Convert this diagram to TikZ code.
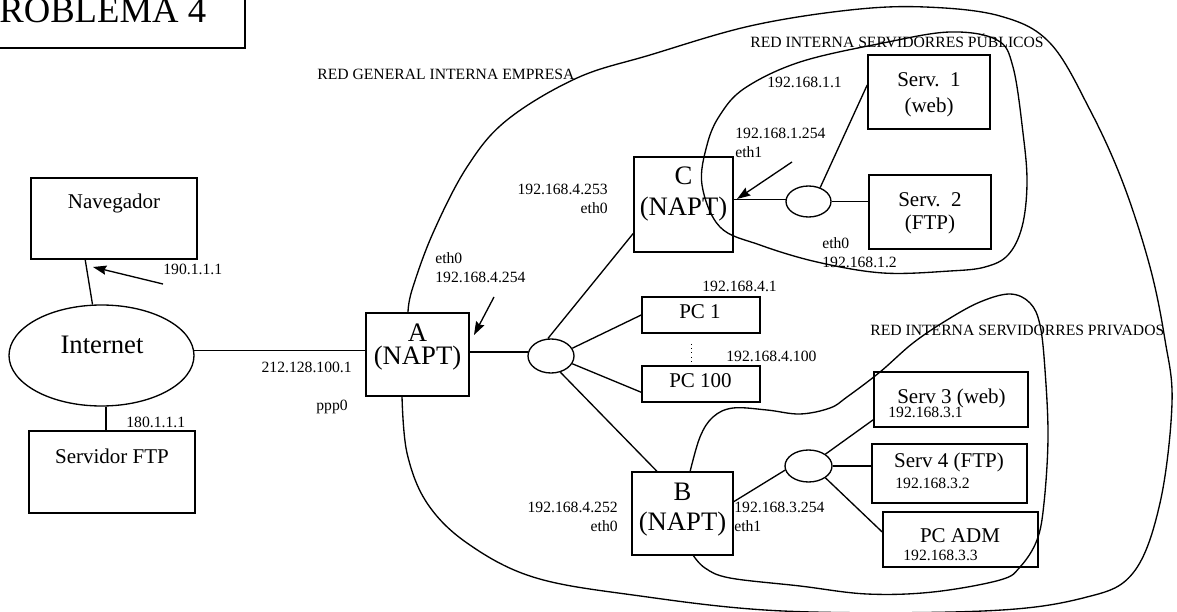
\documentclass[tikz,border=0pt]{standalone}
\usepackage{fontspec}
\setmainfont{Liberation Serif}
\usetikzlibrary{arrows.meta,positioning,calc,shapes.geometric}

\begin{document}
\begin{tikzpicture}[x=0.6pt,y=-0.6pt,
  box/.style={draw, line width=0.95pt, inner sep=0pt},
  wh/.style 2 args={minimum width=#1*0.6pt, minimum height=#2*0.6pt},
  hub/.style={draw, ellipse, line width=0.8pt, inner sep=0pt},
  link/.style={line width=0.8pt},
  ptr/.style={line width=0.8pt, -{Stealth[length=8pt, width=5.5pt, inset=1pt]}},
  lbl/.style={font=\fontsize{9.4}{11.4}\selectfont, inner sep=0pt},
  txt/.style={font=\fontsize{12.6}{15}\selectfont, inner sep=0pt},
  napt/.style={font=\fontsize{16}{18.6}\selectfont, align=center, inner sep=0pt}]
\useasboundingbox (0,0) rectangle (1177,612);
\clip (0,0) rectangle (1177,612);

% title
\node[box, wh={260}{60}] (titlebox) at (115,18) {};
\node[anchor=base west, inner sep=0pt, font=\fontsize{22}{26}\selectfont] (title) at (-1,23) {ROBLEMA 4};

% outside world
\node[box, wh={166}{81}] (Nav) at (114,218.5) {};
\node[txt, anchor=base] (navtxt) at (114,209) {Navegador};
\node[hub, wh={185}{101}] (Internet) at (101.5,355.5) {};
\node[anchor=base, inner sep=0pt, font=\fontsize{16}{19}\selectfont] (inettxt) at (102,353) {Internet};
\node[box, wh={166}{82}] (FTP) at (112,472) {};
\node[txt, anchor=base] (ftptxt) at (112,463) {Servidor FTP};

\node[lbl, anchor=base west] (n190) at (163,275) {190.1.1.1};
\node[lbl, anchor=base west] (n180) at (126,427) {180.1.1.1};
\node[lbl, anchor=base east] (nwan) at (352,372) {212.128.100.1};
\node[lbl, anchor=base west] (nppp) at (316,410) {ppp0};

% routers
\node[box, wh={103}{83}] (A) at (417.5,354.5) {};
\node[napt, font=\fontsize{16}{13.8}\selectfont] (Atxt) at (417.5,347.5) {A\\(NAPT)};
\node[box, wh={99}{95}] (C) at (683.5,204.5) {};
\node[napt] (Ctxt) at (683.5,194.5) {C\\(NAPT)};
\node[box, wh={101}{83}] (B) at (682.5,513.5) {};
\node[napt, font=\fontsize{16}{18}\selectfont] (Btxt) at (682.5,510) {B\\(NAPT)};

\node[lbl, align=left, anchor=north west] (aeth) at (435,252) {eth0\\192.168.4.254};
\node[lbl, align=right, anchor=north east] (ceth0) at (608,184) {192.168.4.253\\eth0};
\node[lbl, align=left, anchor=north west] (ceth1) at (735,127.5) {192.168.1.254\\eth1};
\node[lbl, align=right, anchor=north east] (beth0) at (618,502) {192.168.4.252\\eth0};
\node[lbl, align=left, anchor=north west] (beth1) at (734,502) {192.168.3.254\\eth1};

% hubs
\node[hub, wh={46}{34}] (hub1) at (551,356) {};
\node[hub, wh={45}{31}] (hub2) at (808.5,201.5) {};
\node[hub, wh={47}{32}] (hub3) at (808.5,466) {};

% general network
\node[box, wh={118}{36}] (PC1) at (701,315) {};
\node[txt, anchor=base] (pc1txt) at (700,318) {PC 1};
\node[box, wh={118}{36}] (PC100) at (701,384) {};
\node[txt, anchor=base] (pc100txt) at (700.5,387) {PC 100};
\node[lbl, anchor=base west] (n41) at (702,291) {192.168.4.1};
\node[lbl, anchor=base west] (n4100) at (726,361) {192.168.4.100};

% public servers
\node[box, wh={122}{74}] (S1) at (929,92) {};
\node[txt, align=center, anchor=north, font=\fontsize{12.6}{15.6}\selectfont] (s1txt) at (929,72.7) {Serv.\ \ 1\\(web)};
\node[box, wh={122}{74}] (S2) at (930,212) {};
\node[txt, align=center, anchor=north, font=\fontsize{12.6}{13.8}\selectfont] (s2txt) at (930,192.7) {Serv.\ \ 2\\(FTP)};
\node[lbl, anchor=base west] (n11) at (767,88) {192.168.1.1};
\node[lbl, align=left, anchor=north west] (s2eth) at (822,237) {eth0\\192.168.1.2};

% private servers
\node[box, wh={154}{55}] (S3) at (951,399.5) {};
\node[txt, anchor=base] (s3txt) at (951.5,403) {Serv 3 (web)};
\node[lbl, anchor=base west] (n31) at (888,417) {192.168.3.1};
\node[box, wh={155}{59}] (S4) at (949.5,473.5) {};
\node[txt, anchor=base] (s4txt) at (949,467) {Serv 4 (FTP)};
\node[lbl, anchor=base west] (n32) at (895,488) {192.168.3.2};
\node[box, wh={155}{55}] (ADM) at (960.5,539.5) {};
\node[txt, anchor=base] (admtxt) at (960,542) {PC ADM};
\node[lbl, anchor=base west] (n33) at (903,560) {192.168.3.3};

% network names
\node[lbl, anchor=base west] (redgen) at (317,80) {RED GENERAL INTERNA EMPRESA};
\node[lbl, anchor=base west] (redpub) at (750,48) {RED INTERNA SERVIDORRES PÚBLICOS};
\node[lbl, anchor=base west] (redpriv) at (870,336) {RED INTERNA SERVIDORRES PRIVADOS};

% links
\draw[link] ($(Nav.south west)+(55,0)$) -- (Internet.100);
\draw[link] ($(Internet.south)+(4.5,0)$) -- ($(FTP.north)+(-6,0)$);
\draw[link] (Internet.3) -- (Internet.3 -| A.west);
\draw[link] (A.east |- hub1.170) -- (hub1.170);
\draw[link] (hub1.100) -- ($(C.south west)!0.2!(C.north west)$);
\draw[link] (hub1.20) -- (PC1.west);
\draw[link] (hub1.-20) -- ($(PC100.south west)!0.28!(PC100.north west)$);
\draw[link] (hub1.-60) -- ($(B.north west)!0.25!(B.north east)$);
\draw[link] (C.east |- hub2.175) -- (hub2.175);
\draw[link] (hub2.50) -- ($(S1.west)+(0,-7)$);
\draw[link] (hub2.east) -- (hub2.east -| S2.west);
\draw[link] ($(B.north east)!0.36!(B.south east)$) -- (hub3.190);
\draw[link] (hub3.35) -- ($(S3.south west)+(0,-8)$);
\draw[link] (hub3.east) -- (hub3.east -| S4.west);
\draw[link] (hub3.-35) -- ($(ADM.west)+(0,-7.5)$);
\draw[line width=0.6pt, dotted] ($(PC1.south)+(-10,10)$) -- ($(PC100.north)+(-10,-4)$);

% pointers
\coordinate (navtail) at (163,284);
\coordinate (navtip) at (93,267);
\coordinate (atail) at (494,297);
\coordinate (atip) at (474,335);
\coordinate (ctail) at (792,162);
\coordinate (ctip) at (737,199);
\draw[ptr] (navtail) -- (navtip);
\draw[ptr] (atail) -- (atip);
\draw[ptr] (ctail) -- (ctip);

% network outlines
\draw[link] plot[smooth, tension=0.6] coordinates {(408,313) (412,290) (433,233) (467,167)
  (507,120) (577,78) (650,55) (750,26) (850,10) (925,7) (1000,16) (1050,43) (1090,110)
  (1123,183) (1150,267) (1165,340) (1172,403) (1160,503) (1133,573) (1083,598) (983,611)
  (783,611) (633,595) (533,577) (467,543) (427,503) (407,453) (402,396)};
\draw[link] plot[smooth cycle, tension=0.6] coordinates {(702,185) (707,145) (720,115)
  (745,88) (800,62) (883,43) (950,32) (997,40) (1013,67) (1023,133) (1027,183) (1022,227)
  (1008,255) (985,267) (950,271) (883,273) (817,262) (760,245) (720,227)};
\draw[link] plot[smooth, tension=0.6] coordinates {(690,472) (700,437) (713,417) (733,408)
  (767,410) (800,414) (830,408) (847,397) (880,372) (913,343) (947,320) (980,302)
  (1010,294) (1030,303) (1040,325) (1045,370) (1048,437) (1044,503) (1037,540) (1020,567)
  (1000,580) (933,592) (867,594) (800,586) (730,578) (705,568) (693,555)};
\end{tikzpicture}
\end{document}
